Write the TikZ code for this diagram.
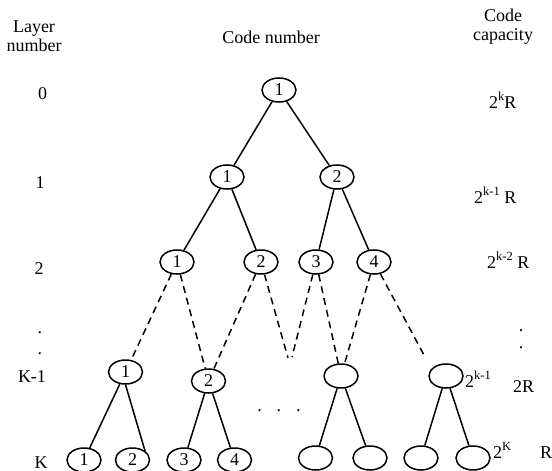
\documentclass[tikz,border=0pt]{standalone}
\usepackage{fontspec}
\setmainfont{Liberation Serif}
\usetikzlibrary{positioning,shapes.geometric}
\newcommand{\capexp}[1]{\raisebox{0.42em}{\fontsize{12.5}{12.5}\selectfont #1}}

\begin{document}
\begin{tikzpicture}[x=1pt,y=-1pt,
every node/.style={font=\fontsize{18}{19.5}\selectfont},
code/.style={ellipse, draw=black, line width=1.5pt, minimum width=34pt, minimum height=24pt, inner sep=0pt},
txt/.style={anchor=base, inner sep=0pt},
txtw/.style={anchor=base west, inner sep=0pt},
link/.style={line width=1.5pt},
hidden/.style={line width=1.5pt, dash pattern=on 7pt off 5pt}
]
\useasboundingbox (0,0) rectangle (552,471);

% headings
\node[txt, align=center](layer_head) at (34,51.7){Layer\\number};
\node[txt](code_head) at (271,43){Code number};
\node[txt, align=center](cap_head) at (503,40.7){Code\\capacity};

% layer numbers
\node[txt](layer_0) at (42.5,99){0};
\node[txt](layer_1) at (40,188){1};
\node[txt](layer_2) at (39,274){2};
\node[txt](layer_dot1) at (40,333.5){.};
\node[txt](layer_dot2) at (40,354.5){.};
\node[txt](layer_k1) at (32,382){K-1};
\node[txt](layer_k) at (41,468.5){K};

% capacities
\node[txtw](cap_0) at (489,108){2\capexp{k}R};
\node[txtw](cap_1) at (474,203){2\capexp{k-1} R};
\node[txtw](cap_2) at (487,268){2\capexp{k-2} R};
\node[txt](cap_dot1) at (521,331.5){.};
\node[txt](cap_dot2) at (521,348.5){.};
\node[txtw](cap_k1) at (513,392){2R};
\node[txtw](cap_k) at (540,458){R};

% code tree
\node[code](root) at (279,90){1};
\node[code](l1a) at (227,177){1};
\node[code](l1b) at (337,177){2};

\node[code](l2a) at (177,262){1};
\node[code](l2b) at (261,262){2};
\node[code](l2c) at (316,262){3};
\node[code](l2d) at (374,262){4};

\node[code](k1a) at (125.5,372){1};
\node[code](k1b) at (208.5,381){2};
\node[code](k1c) at (341,376){};
\node[code](k1d) at (446,376){};
\node[txtw](num_k1) at (465,387){2\capexp{k-1}};

\node[code](ka) at (84,460){1};
\node[code](kb) at (132.5,460){2};
\node[code](kc) at (184,460){3};
\node[code](kd) at (234.5,460){4};
\node[code](ke) at (315.5,458){};
\node[code](kf) at (370,458){};
\node[code](kg) at (421,458){};
\node[code](kh) at (473,458){};
\node[txtw](num_k) at (493,458){2\capexp{K}};

\node[txt](gap_dots) at (279,411){.\hspace{15pt}.\hspace{15pt}.};

\coordinate(open_a) at (288,358);
\coordinate(open_b) at (292,357);
\coordinate(open_c) at (424,355);

\draw[link] (root) -- (l1a);
\draw[link] (root) -- (l1b);
\draw[link] (l1a) -- (l2a);
\draw[link] (l1a) -- (l2b);
\draw[link] (l1b) -- (l2c);
\draw[link] (l1b) -- (l2d);

\draw[hidden] (l2a) -- (k1a);
\draw[hidden] (l2a) -- (k1b);
\draw[hidden] (l2b) -- (k1b);
\draw[hidden] (l2b) -- (open_a);
\draw[hidden] (l2c) -- (open_b);
\draw[hidden] (l2c) -- (k1c);
\draw[hidden] (l2d) -- (k1c);
\draw[hidden] (l2d) -- (open_c);

\draw[link] (k1a) -- (ka);
\draw[link] (k1a.south) -- (kb.north east);
\draw[link] (k1b) -- (kc);
\draw[link] (k1b) -- (kd);
\draw[link] (k1c) -- (ke);
\draw[link] (k1c) -- (kf);
\draw[link] (k1d) -- (kg);
\draw[link] (k1d) -- (kh);
\end{tikzpicture}
\end{document}
